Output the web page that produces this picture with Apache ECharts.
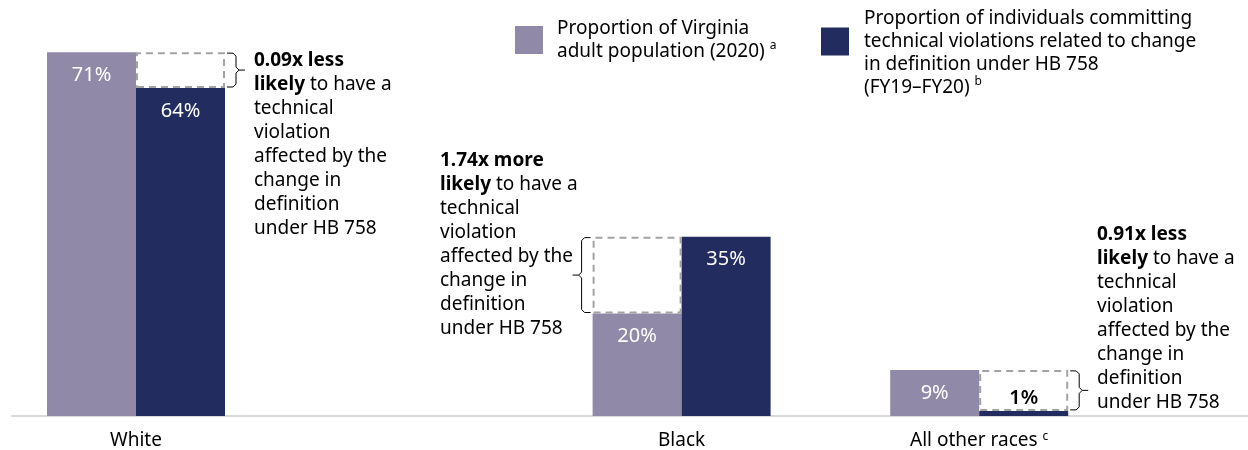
<!DOCTYPE html>
<html>
<head>
<meta charset="utf-8">
<script src="https://cdn.jsdelivr.net/npm/echarts@6/dist/echarts.min.js"></script>
<style>
    html, body { margin: 0; padding: 0; background: #fff; }
    #chart { width: 1248px; height: 450px; }
</style>
</head>
<body>
<div id="chart"></div>
<script>
// Data
const categories = ['White', 'Black', 'All other races']
const categoryNotes = ['', '', 'c']
const populationShare = [71, 20, 9]
const violationShare = [64, 35, 1]
const ratioText = ['0.09x less', '1.74x more', '0.91x less']

// Layout: slot index of each category on the (padded) category axis
const SLOT_COUNT = 25
const slotOf = [2, 13, 19]
const bracketSide = [1, -1, 1] // 1 = right of dark bar, -1 = left of light bar
const BAR_W = 89

const LIGHT = '#9089A8'
const DARK = '#222C5F'
const FONT = 'Noto Sans'
const FS = 19

// Build padded axis data
const axisData = new Array(SLOT_COUNT).fill('')
categories.forEach((c, i) => { axisData[slotOf[i]] = c })

function padded(values, mapItem) {
    const arr = new Array(SLOT_COUNT).fill(null)
    values.forEach((v, i) => { arr[slotOf[i]] = v == null ? null : (mapItem ? mapItem(v, i) : v) })
    return arr
}

// dashed "gap" boxes on top of the shorter bar
const gapOnPopulation = populationShare.map((p, i) => violationShare[i] > p ? violationShare[i] - p : null)
const gapOnViolation = violationShare.map((v, i) => populationShare[i] > v ? populationShare[i] - v : null)

const bracketData = categories.map((c, i) => [
    slotOf[i],
    Math.min(populationShare[i], violationShare[i]),
    Math.max(populationShare[i], violationShare[i]),
    bracketSide[i]
])

const valueLabel = {
    show: true,
    position: 'insideTop',
    distance: 13,
    color: '#fff',
    fontSize: 20,
    fontFamily: FONT,
    formatter: '{c}%'
}

const gapStyle = {
    color: 'rgba(0,0,0,0)',
    borderColor: '#A3A3A3',
    borderWidth: 2,
    borderType: [7, 5]
}

function renderBracket(params, api) {
    const slot = api.value(0)
    const top = api.coord([slot, api.value(2)])
    const bot = api.coord([slot, api.value(1)])
    const side = api.value(3)
    const edge = top[0] + side * BAR_W
    const xs = edge + side * 2
    const xv = edge + side * 11
    const xn = edge + side * 20
    const y0 = top[1] + 1
    const y1 = bot[1] - 1
    const ym = (y0 + y1) / 2
    const r = 3
    const style = { stroke: '#000', lineWidth: 1, fill: null }
    return {
        type: 'group',
        children: [
            { type: 'polyline', shape: { points: [[xs, y0], [xv - side * r, y0], [xv, y0 + r], [xv, ym - r], [xv + side * r, ym], [xn, ym]] }, style },
            { type: 'polyline', shape: { points: [[xv + side * r, ym], [xv, ym + r], [xv, y1 - r], [xv - side * r, y1], [xs, y1]] }, style }
        ]
    }
}

function annotation(i) {
    return '{b|' + ratioText[i] + '}\n' +
        '{b|likely} to have a\ntechnical\nviolation\naffected by the\nchange in\ndefinition\nunder HB 758'
}

const annotationPos = [[254, 49], [440, 149], [1097, 223]]

const supStyle = { fontSize: 12, lineHeight: 14, verticalAlign: 'top', fontFamily: FONT, color: '#000' }

const chart = echarts.init(document.getElementById('chart'))

const option = {
    animation: false,
    textStyle: { fontFamily: FONT },
    grid: { left: 12, width: 1240, top: 6, bottom: 34, outerBoundsMode: 'none' },
    legend: [
        {
            data: ['Proportion of Virginia adult population (2020)'],
            left: 515,
            top: 17,
            padding: 0,
            icon: 'rect',
            itemWidth: 28,
            itemHeight: 28,
            formatter: () => 'Proportion of Virginia\nadult population (2020) {s|a}',
            textStyle: {
                fontSize: FS, lineHeight: 23, color: '#000', fontFamily: FONT,
                padding: [0, 0, 0, 9],
                rich: { s: supStyle }
            }
        },
        {
            data: ['Proportion of individuals committing technical violations'],
            left: 821,
            top: -16,
            padding: 0,
            icon: 'rect',
            itemWidth: 28,
            itemHeight: 28,
            formatter: () => 'Proportion of individuals committing\ntechnical violations related to change\nin definition under HB 758\n(FY19\u2013FY20) {s|b}',
            textStyle: {
                fontSize: FS, lineHeight: 23, color: '#000', fontFamily: FONT,
                padding: [23, 0, 0, 10],
                rich: { s: supStyle }
            }
        }
    ],
    xAxis: {
        type: 'category',
        data: axisData,
        axisLine: { lineStyle: { color: '#D9D9D9', width: 2 } },
        axisTick: { show: false },
        axisLabel: {
            interval: 0,
            margin: 15,
            fontSize: FS,
            color: '#000',
            fontFamily: FONT,
            formatter: (val) => {
                const i = categories.indexOf(val)
                if (i < 0) return ''
                return categoryNotes[i] ? val + ' {s|' + categoryNotes[i] + '}' : val
            },
            rich: { s: supStyle }
        }
    },
    yAxis: {
        type: 'value',
        min: 0,
        max: 80,
        show: false,
        splitLine: { show: false }
    },
    series: [
        {
            name: 'Proportion of Virginia adult population (2020)',
            type: 'bar',
            stack: 'pop',
            barWidth: BAR_W,
            barGap: '0%',
            itemStyle: { color: LIGHT },
            label: valueLabel,
            data: padded(populationShare)
        },
        {
            name: 'Proportion of individuals committing technical violations',
            type: 'bar',
            stack: 'viol',
            barWidth: BAR_W,
            barGap: '0%',
            itemStyle: { color: DARK },
            label: valueLabel,
            data: padded(violationShare, (v) => v < 5
                ? { value: v, label: { position: 'top', distance: 3, color: '#000', fontWeight: 600 } }
                : v)
        },
        {
            name: 'gapPop',
            type: 'bar',
            stack: 'pop',
            barWidth: BAR_W,
            barGap: '0%',
            itemStyle: gapStyle,
            data: padded(gapOnPopulation)
        },
        {
            name: 'gapViol',
            type: 'bar',
            stack: 'viol',
            barWidth: BAR_W,
            barGap: '0%',
            itemStyle: gapStyle,
            data: padded(gapOnViolation)
        },
        {
            name: 'brackets',
            type: 'custom',
            renderItem: renderBracket,
            encode: { x: 0, y: [1, 2] },
            data: bracketData,
            z: 5
        }
    ],
    graphic: categories.map((c, i) => ({
        type: 'text',
        left: annotationPos[i][0],
        top: annotationPos[i][1],
        style: {
            text: annotation(i),
            fontSize: FS,
            lineHeight: 24,
            fill: '#000',
            fontFamily: FONT,
            rich: { b: { fontWeight: 'bold', fontSize: FS, lineHeight: 24, fontFamily: FONT } }
        }
    }))
}

chart.setOption(option)
</script>
</body>
</html>
